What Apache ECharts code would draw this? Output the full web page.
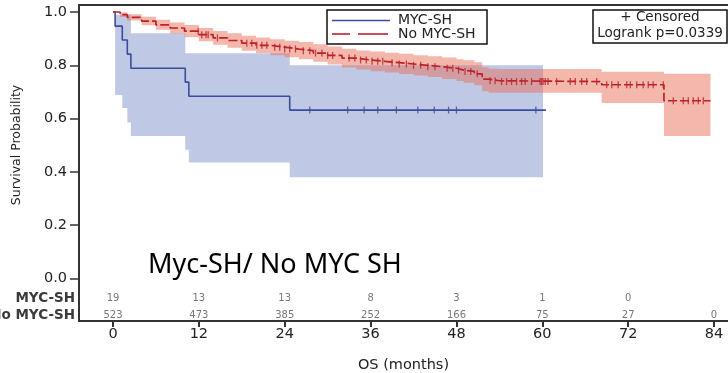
<!DOCTYPE html>
<html><head><meta charset="utf-8">
<script src="https://cdn.jsdelivr.net/npm/echarts@6/dist/echarts.min.js"></script>
<style>html,body{margin:0;padding:0;background:#fff;} #c{width:728px;height:373px;}</style>
</head><body><div id="c"></div>
<script>
// ---------- data ----------
const xTicks = [0, 12, 24, 36, 48, 60, 72, 84];
const yTicks = [0, 0.2, 0.4, 0.6, 0.8, 1.0];
const riskRowLabels = ['MYC-SH', 'No MYC-SH'];
const riskMyc = [19, 13, 13, 8, 3, 1, 0];
const riskNoMyc = [523, 473, 385, 252, 166, 75, 27, 0];

// MYC-SH (blue)
const mycTimes = [0, 0.3, 1.3, 2.0, 2.5, 10.1, 10.6, 24.7];
const mycSurv = [1.0, 0.947, 0.895, 0.842, 0.789, 0.737, 0.684, 0.632];
const mycEnd = 60.5;
const mycCensor = [27.5, 32.8, 35.1, 37.0, 39.6, 42.6, 44.9, 46.9, 48.0, 59.1];
const mycBandTimes = [0.3, 1.3, 2.0, 2.5, 10.1, 10.6, 24.7];
const mycLower = [0.689, 0.64, 0.585, 0.535, 0.483, 0.435, 0.38];
const mycUpper = [0.99, 0.99, 0.99, 0.92, 0.845, 0.845, 0.80];
const mycBandEnd = 60.1;

// No MYC-SH (red)
const noTimes = [0, 1, 2, 4, 6, 8, 10, 12, 14, 16, 18, 20, 22, 24, 26, 28, 30, 32, 34, 36, 38, 40, 42, 44, 46, 48, 49, 50.5, 51.6, 52.5, 54, 68.3, 77];
const noSurv = [1.0, 0.99, 0.98, 0.966, 0.952, 0.94, 0.928, 0.915, 0.903, 0.893, 0.883, 0.875, 0.868, 0.861, 0.855, 0.846, 0.837, 0.827, 0.82, 0.815, 0.81, 0.805, 0.8, 0.795, 0.789, 0.782, 0.777, 0.768, 0.748, 0.742, 0.739, 0.727, 0.667];
const noLower = [1.0, 0.981, 0.968, 0.95, 0.933, 0.919, 0.905, 0.89, 0.877, 0.866, 0.855, 0.846, 0.838, 0.83, 0.823, 0.813, 0.803, 0.792, 0.784, 0.778, 0.773, 0.767, 0.762, 0.756, 0.749, 0.741, 0.735, 0.725, 0.703, 0.697, 0.697, 0.659, 0.535];
const noUpper = [1.0, 0.999, 0.992, 0.982, 0.971, 0.961, 0.951, 0.94, 0.929, 0.92, 0.911, 0.904, 0.898, 0.892, 0.887, 0.879, 0.871, 0.862, 0.856, 0.852, 0.847, 0.843, 0.838, 0.834, 0.829, 0.823, 0.819, 0.811, 0.793, 0.787, 0.786, 0.776, 0.768];
const noEnd = 83.5;
const noCensor = [11.9, 12.4, 13.0, 13.3, 14.6, 18.7, 19.4, 20.1, 20.8, 21.5, 22.6, 23.3, 24.0, 24.7, 25.5, 26.6, 27.5, 28.3, 29.2, 30.0, 30.7, 33.0, 33.8, 34.6, 35.4, 36.2, 37.0, 37.7, 39.0, 40.0, 41.0, 42.0, 43.0, 44.0, 45.0, 46.7, 47.5, 48.3, 49.2, 50.0, 50.9, 52.7, 53.4, 54.3, 55.0, 55.7, 56.4, 57.1, 57.6, 58.5, 59.7, 59.9, 60.1, 60.4, 60.8, 62.0, 63.9, 64.6, 65.5, 66.2, 67.6, 69.0, 69.7, 70.6, 71.8, 72.3, 73.2, 74.1, 74.8, 75.5, 76.9, 78.3, 79.7, 80.4, 81.1, 81.8, 82.5];

// ---------- helpers ----------
const BLUE = '#3d4b9e', RED = '#bd222b';
const BLUE_BAND = '#bfc9e6', RED_BAND = 'rgba(232,112,90,0.5)';
const FONT = '"DejaVu Sans", sans-serif';

function survAt(times, surv, t) {
  let v = surv[0];
  for (let i = 0; i < times.length; i++) if (times[i] <= t) v = surv[i];
  return v;
}
function stepData(times, surv, end) {
  const d = times.map((t, i) => [t, surv[i]]);
  d.push([end, surv[surv.length - 1]]);
  return d;
}
function stepPolygon(times, lower, upper, end) {
  const top = [], bot = [];
  for (let i = 0; i < times.length; i++) {
    const t1 = i + 1 < times.length ? times[i + 1] : end;
    top.push([times[i], upper[i]], [t1, upper[i]]);
    bot.push([times[i], lower[i]], [t1, lower[i]]);
  }
  return top.concat(bot.reverse());
}
function bandSeries(times, lower, upper, end, color, z) {
  return {
    type: 'custom', coordinateSystem: 'cartesian2d', silent: true, z: z,
    data: [[times[0], upper[0]]],
    renderItem: function (params, api) {
      const pts = stepPolygon(times, lower, upper, end).map(p => api.coord(p));
      return { type: 'polygon', shape: { points: pts }, style: { fill: color } };
    }
  };
}
function censorSeries(times, surv, ctimes, color) {
  return {
    type: 'scatter', silent: true, z: 5,
    symbol: 'rect', symbolSize: [1.3, 7],
    itemStyle: { color: color },
    data: ctimes.map(t => [t, survAt(times, surv, t)])
  };
}
const ROW1_Y = -0.074, ROW2_Y = -0.137;
function riskSeries(vals, yv) {
  return {
    type: 'scatter', silent: true, symbolSize: 0, z: 6,
    data: vals.map((v, i) => [xTicks[i], yv, v]),
    label: { show: true, position: 'inside', formatter: p => String(p.data[2]),
      fontFamily: FONT, fontSize: 10, color: '#555' }
  };
}

const XMIN = -4.75, XMAX = 85.95, YMIN = -0.1595, YMAX = 1.0263;

const chart = echarts.init(document.getElementById('c'), null, { renderer: 'canvas' });
chart.setOption({
  animation: false,
  backgroundColor: '#fff',
  grid: { left: 79, right: 0, top: 5, bottom: 52, containLabel: false, outerBoundsMode: 'none' },
  xAxis: [{
    type: 'value', min: XMIN, max: XMAX, position: 'bottom',
    axisLine: { show: true, onZero: false, lineStyle: { color: '#333', width: 2 } },
    axisTick: { show: true, customValues: xTicks, length: 6, lineStyle: { color: '#333', width: 2 } },
    axisLabel: { show: true, customValues: xTicks, margin: 6, fontFamily: FONT, fontSize: 14.5, color: '#222' },
    splitLine: { show: false },
    name: 'OS (months)', nameLocation: 'middle', nameGap: 37,
    nameTextStyle: { fontFamily: FONT, fontSize: 14.5, color: '#222' }
  }, {
    type: 'value', min: XMIN, max: XMAX, position: 'top',
    axisLine: { show: true, onZero: false, lineStyle: { color: '#333', width: 2 } },
    axisTick: { show: false }, axisLabel: { show: false }, splitLine: { show: false }
  }],
  yAxis: {
    type: 'value', min: YMIN, max: YMAX,
    axisLine: { show: true, onZero: false, lineStyle: { color: '#333', width: 2 } },
    axisTick: { show: true, customValues: yTicks, length: 9, lineStyle: { color: '#333', width: 1.5 } },
    axisLabel: { show: true, customValues: yTicks, margin: 12, formatter: v => v.toFixed(1),
      fontFamily: FONT, fontSize: 14.5, color: '#222' },
    splitLine: { show: false }
  },
  series: [
    bandSeries(mycBandTimes, mycLower, mycUpper, mycBandEnd, BLUE_BAND, 1),
    bandSeries(noTimes, noLower, noUpper, noEnd, RED_BAND, 2),
    { type: 'line', step: 'end', data: stepData(mycTimes, mycSurv, mycEnd), symbol: 'none', z: 3,
      lineStyle: { color: BLUE, width: 1.6 } },
    { type: 'line', step: 'end', data: stepData(noTimes, noSurv, noEnd), symbol: 'none', z: 4,
      lineStyle: { color: RED, width: 1.7, type: [9, 3] } },
    censorSeries(mycTimes, mycSurv, mycCensor, BLUE),
    censorSeries(noTimes, noSurv, noCensor, RED),
    riskSeries(riskMyc, ROW1_Y),
    riskSeries(riskNoMyc, ROW2_Y)
  ],
  graphic: [
    { type: 'text', x: 17, y: 145, rotation: Math.PI / 2,
      style: { text: 'Survival Probability', textAlign: 'center', textVerticalAlign: 'middle', font: '12.5px ' + FONT, fill: '#222' } },
    { type: 'text', x: 75, y: 298, style: { text: riskRowLabels[0], textAlign: 'right', textVerticalAlign: 'middle', font: 'bold 13.5px ' + FONT, fill: '#3a3a3a' } },
    { type: 'text', x: 75, y: 315, style: { text: riskRowLabels[1], textAlign: 'right', textVerticalAlign: 'middle', font: 'bold 13.5px ' + FONT, fill: '#3a3a3a' } },
    // legend box
    { type: 'rect', shape: { x: 327, y: 10, width: 160, height: 34 }, style: { fill: '#fff', stroke: '#111', lineWidth: 1.5 }, z: 10 },
    { type: 'line', shape: { x1: 332, y1: 20.5, x2: 390, y2: 20.5 }, style: { stroke: BLUE, lineWidth: 1.6 }, z: 11 },
    { type: 'line', shape: { x1: 332, y1: 34, x2: 350, y2: 34 }, style: { stroke: RED, lineWidth: 1.6 }, z: 11 },
    { type: 'line', shape: { x1: 358, y1: 34, x2: 388, y2: 34 }, style: { stroke: RED, lineWidth: 1.6 }, z: 11 },
    { type: 'text', x: 398, y: 20.5, style: { text: 'MYC-SH', textAlign: 'left', textVerticalAlign: 'middle', font: '14px ' + FONT, fill: '#222' }, z: 11 },
    { type: 'text', x: 398, y: 34, style: { text: 'No MYC-SH', textAlign: 'left', textVerticalAlign: 'middle', font: '14px ' + FONT, fill: '#222' }, z: 11 },
    // censored box
    { type: 'rect', shape: { x: 593, y: 10, width: 134, height: 33 }, style: { fill: '#fff', stroke: '#111', lineWidth: 1.5 }, z: 10 },
    { type: 'text', x: 660, y: 17.5, style: { text: '+ Censored', textAlign: 'center', textVerticalAlign: 'middle', font: '13.5px ' + FONT, fill: '#222' }, z: 11 },
    { type: 'text', x: 660, y: 33.5, style: { text: 'Logrank p=0.0339', textAlign: 'center', textVerticalAlign: 'middle', font: '13.5px ' + FONT, fill: '#222' }, z: 11 },
    // overlay caption
    { type: 'text', x: 148, y: 265, style: { text: 'Myc-SH/ No MYC SH', textAlign: 'left', textVerticalAlign: 'middle', font: '27px "Noto Sans", sans-serif', fill: '#000' }, z: 11 }
  ]
});
</script>
</body></html>
